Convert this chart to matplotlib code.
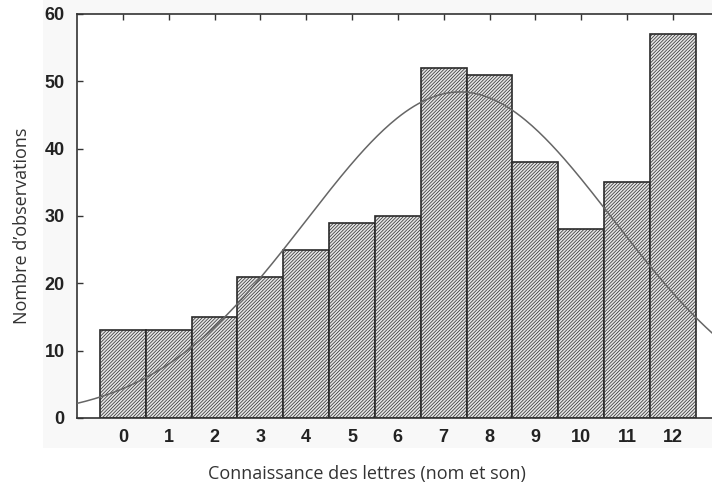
import matplotlib
matplotlib.use("Agg")
import matplotlib.pyplot as plt
import numpy as np

categories = list(range(13))
counts = [13, 13, 15, 21, 25, 29, 30, 52, 51, 38, 28, 35, 57]
yticks = [0, 10, 20, 30, 40, 50, 60]

plt.rcParams['hatch.color'] = '#7c7c7c'
plt.rcParams['hatch.linewidth'] = 0.5

fig = plt.figure(figsize=(7.12, 4.93), dpi=100)
# light panel behind the plot (statistica style)
fig.patches.append(plt.Rectangle((43 / 712, 45 / 493), 1, 1, transform=fig.transFigure,
                                 facecolor='#f8f8f8', edgecolor='none', zorder=-5))
ax = fig.add_axes([77 / 712, 75 / 493, 641.75 / 712, 404 / 493])
ax.set_facecolor('white')

ax.bar(categories, counts, width=1.0, facecolor='#e4e4e4', edgecolor='#2a2a2a',
       linewidth=1.2, hatch='//////////', zorder=2)

# fitted normal curve
n = sum(counts)
x = np.array(categories)
mean = np.sum(x * np.array(counts)) / n
sd = np.sqrt(np.sum((x - mean) ** 2 * np.array(counts)) / n)
xs = np.linspace(-1, 13, 300)
ys = n / (sd * np.sqrt(2 * np.pi)) * np.exp(-(xs - mean) ** 2 / (2 * sd ** 2))
ax.plot(xs, ys, color='#666666', linewidth=1.1, zorder=3)

ax.set_xlim(-1, 13)
ax.set_ylim(0, 60)
ax.set_xticks(categories)
ax.set_yticks(yticks)
ax.tick_params(direction='in', length=4, width=1, color='#333333',
               labelsize=13, top=True, right=False)
ax.tick_params(axis='x', pad=8)
ax.tick_params(axis='y', pad=9)
for lab in ax.get_xticklabels() + ax.get_yticklabels():
    lab.set_family('Liberation Sans')
    lab.set_fontweight('bold')
    lab.set_color('#222222')
for s in ax.spines.values():
    s.set_color('#333333')
    s.set_linewidth(1.2)

fig.text(367 / 712, 1 - 474 / 493, "Connaissance des lettres (nom et son)",
         family='Open Sans', fontsize=13, color='#333333', ha='center', va='center')
fig.text(22 / 712, 1 - 226 / 493, "Nombre d\u2019observations", family='Open Sans',
         fontsize=13, color='#333333', ha='center', va='center', rotation=90)

fig.savefig("out.png", dpi=100)
